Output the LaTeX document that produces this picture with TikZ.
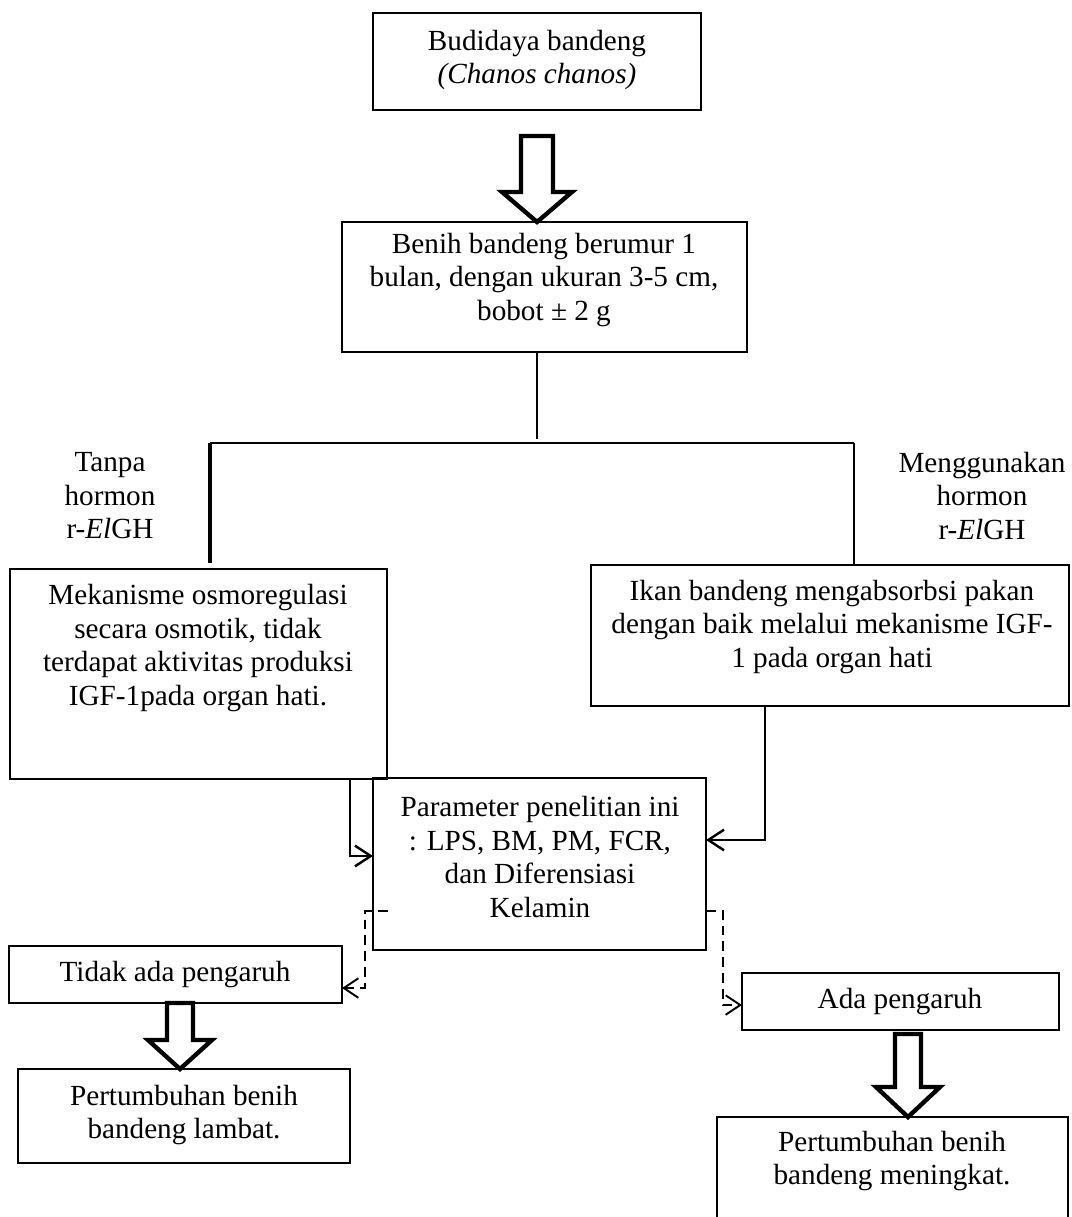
\documentclass[tikz,border=0pt]{standalone}
\usepackage{fontspec}
\setmainfont{Liberation Serif}
\usetikzlibrary{arrows.meta,fit,calc}
\newcommand\blockarr[5]{%
  \draw[barrow] ($(#1)+(-#3,0)$) -- ($(#1)+(#3,0)$) -- ($(#2)+(#3,-#5)$) -- ($(#2)+(#4,-#5)$) -- (#2) -- ($(#2)+(-#4,-#5)$) -- ($(#2)+(-#3,-#5)$) -- cycle;}
\begin{document}
\begin{tikzpicture}[x=0.411pt,y=-0.411pt,
  box/.style={draw,line width=0.5pt,inner sep=0pt,outer sep=0pt,rectangle},
  nobox/.style={inner sep=0pt,outer sep=0pt,rectangle},
  txt/.style={align=center,inner sep=0pt,font=\fontsize{12pt}{13.8pt}\selectfont},
  tree/.style={line width=0.9pt},
  conn/.style={line width=1pt,-{Straight Barb[length=6.5pt,width=8.5pt]}},
  dconn/.style={line width=0.8pt,dash pattern=on 4pt off 2.5pt,-{Straight Barb[length=6pt,width=8pt]}},
  barrow/.style={line width=1.8pt,line join=miter,miter limit=10}]
\useasboundingbox (0,0) rectangle (1071,1217);

% boxes
\node[box,fit={(373,13) (701,110)}] (nbud) {};
\node[box,fit={(342,222) (747,352)}] (box2) {};
\node[box,fit={(10,569) (387,779)}] (leftbox) {};
\node[box,fit={(591,565) (1069,706)}] (rightbox) {};
\node[box,fit={(373,778) (706,950)}] (param) {};
\node[box,fit={(9,946) (342,1003)}] (tidak) {};
\node[box,fit={(18,1069) (350,1163)}] (lambat) {};
\node[box,fit={(742,973) (1059,1030)}] (ada) {};
\node[nobox,fit={(717,1117) (1068,1217)}] (mening) {};
\draw[line width=0.5pt] (mening.south west) -- (mening.north west) -- (mening.north east) -- (mening.south east);

% texts
\node[txt] (tbud) at (537,60) {Budidaya bandeng\\\textit{(Chanos chanos)}};
\node[txt] (tbox2) at (544,280) {Benih bandeng berumur 1\\bulan, dengan ukuran 3-5 cm,\\bobot ± 2 g};
\node[txt] (ltanpa) at (110,496) {Tanpa\\hormon\\r-\textit{El}GH};
\node[txt] (lmeng) at (982,496) {Menggunakan\\hormon\\r-\textit{El}GH};
\node[txt] (tleft) at (198,648) {Mekanisme osmoregulasi\\secara osmotik, tidak\\terdapat aktivitas produksi\\IGF-1pada organ hati.};
\node[txt] (tright) at (832,627) {Ikan bandeng mengabsorbsi pakan\\dengan baik melalui mekanisme IGF-\\1 pada organ hati};
\node[txt] (tparam) at (540,857) {Parameter penelitian ini\\: LPS, BM, PM, FCR,\\dan Diferensiasi\\Kelamin};
\node[txt] (ttidak) at (175,975) {Tidak ada pengaruh};
\node[txt] (tlambat) at (184,1115) {Pertumbuhan benih\\bandeng lambat.};
\node[txt] (tada) at (900,1002) {Ada pengaruh};
\node[txt] (tmen) at (892,1161) {Pertumbuhan benih\\bandeng meningkat.};

% block arrows
\coordinate (a1s) at ($(nbud.south)+(0,26)$);
\coordinate (a1e) at (a1s |- box2.north);
\blockarr{a1s}{a1e}{16}{35}{30}
\coordinate (a2s) at ($(tidak.south)+(4.5,0)$);
\coordinate (a2e) at (a2s |- lambat.north);
\blockarr{a2s}{a2e}{13}{32}{29}
\coordinate (a3s) at ($(ada.south)+(7.5,4)$);
\coordinate (a3e) at (a3s |- mening.north);
\blockarr{a3s}{a3e}{13}{32}{30}

% tree
\coordinate (vtop) at (a1e |- box2.south);
\coordinate (vbot) at (537,439);
\coordinate (hl) at (210,443);
\coordinate (hr) at (854,443);
\draw[tree] (vtop) -- (vbot);
\draw[tree] (hl) -- (hr);
\draw[line width=1.3pt] (hl) -- ($(hl |- leftbox.north)+(0,-6)$);
\draw[tree] (hr) -- (hr |- rightbox.north);

% solid connectors
\coordinate (c1) at (350,856);
\draw[conn] ($(leftbox.south east)+(-61,0)$) -- (c1 |- leftbox.south) -- (c1) -- (c1 -| param.west);
\coordinate (c2) at (765,840);
\draw[conn] ($(rightbox.south west)+(228,0)$) -- (c2 |- rightbox.south) -- (c2) -- (c2 -| param.east);

% dashed connectors
\coordinate (d1) at (365,911);
\coordinate (d1b) at (365,988);
\draw[dconn] ($(d1 -| param.west)+(15,0)$) -- (d1) -- (d1b) -- (d1b -| tidak.east);
\coordinate (d2) at (723,911);
\coordinate (d2b) at (723,1005);
\draw[dconn] (d2 -| param.east) -- (d2) -- (d2b) -- (d2b -| ada.west);
\end{tikzpicture}
\end{document}
